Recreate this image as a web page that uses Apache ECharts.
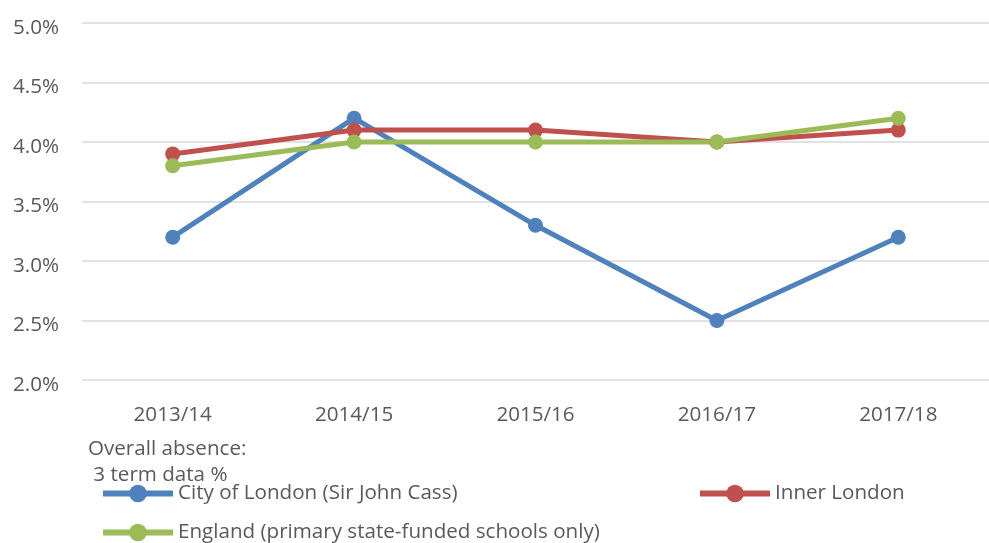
<!DOCTYPE html>
<html>
<head>
<meta charset="utf-8">
<script src="https://cdn.jsdelivr.net/npm/echarts@6/dist/echarts.min.js"></script>
<style>
html,body{margin:0;padding:0;background:#fff;}
#main{width:989px;height:543px;}
</style>
</head>
<body>
<div id="main"></div>
<script>
var years=['2013/14','2014/15','2015/16','2016/17','2017/18'];
var cityLondon=[3.2,4.2,3.3,2.5,3.2];
var innerLondon=[3.9,4.1,4.1,4.0,4.1];
var england=[3.8,4.0,4.0,4.0,4.2];
var names=['City of London (Sir John Cass)','Inner London','England (primary state-funded schools only)'];
var colors=['#4F81BD','#C0504D','#9BBB59'];

var font='"Open Sans", "Noto Sans", sans-serif';
var txtColor='#595959';

function mkLegend(name,left,top){
	return {
		data:[name],
		left:left,
		top:top,
		itemWidth:70,
		itemHeight:22,
		itemGap:0,
		padding:0,
		itemStyle:{borderWidth:0},
		lineStyle:{width:6},
		textStyle:{color:txtColor,fontSize:20.6,fontFamily:font,padding:[0,0,0,0]}
	};
}
function mkSeries(name,data,color){
	return {
		name:name,
		type:'line',
		data:data,
		symbol:'circle',
		symbolSize:15,
		lineStyle:{width:5,color:color},
		itemStyle:{color:color},
		animation:false
	};
}

var myChart=echarts.init(document.getElementById('main'));
var option={
	color:colors,
	grid:{left:82,top:23,width:915,height:357,containLabel:false},
	legend:[
		mkLegend(names[0],100,483),
		mkLegend(names[1],697,483),
		mkLegend(names[2],100,522)
	],
	graphic:[{
		type:'text',
		left:88,
		top:436,
		style:{text:'Overall absence:\n 3 term data %',fill:txtColor,font:'20.6px '+font,lineHeight:26}
	}],
	xAxis:{
		type:'category',
		data:years,
		axisLine:{show:false},
		axisTick:{show:false},
		axisLabel:{color:txtColor,fontSize:20.6,fontFamily:font,margin:25}
	},
	yAxis:{
		type:'value',
		min:2.0,
		max:5.0,
		interval:0.5,
		axisLine:{show:false},
		axisTick:{show:false},
		axisLabel:{color:txtColor,fontSize:20.6,fontFamily:font,margin:23,
			verticalAlign:'top',lineHeight:10,
			formatter:function(v){return v.toFixed(1)+'%';}},
		splitLine:{lineStyle:{color:'#D9D9D9',width:1.5}}
	},
	series:[
		mkSeries(names[0],cityLondon,colors[0]),
		mkSeries(names[1],innerLondon,colors[1]),
		mkSeries(names[2],england,colors[2])
	]
};
myChart.setOption(option);
</script>
</body>
</html>
